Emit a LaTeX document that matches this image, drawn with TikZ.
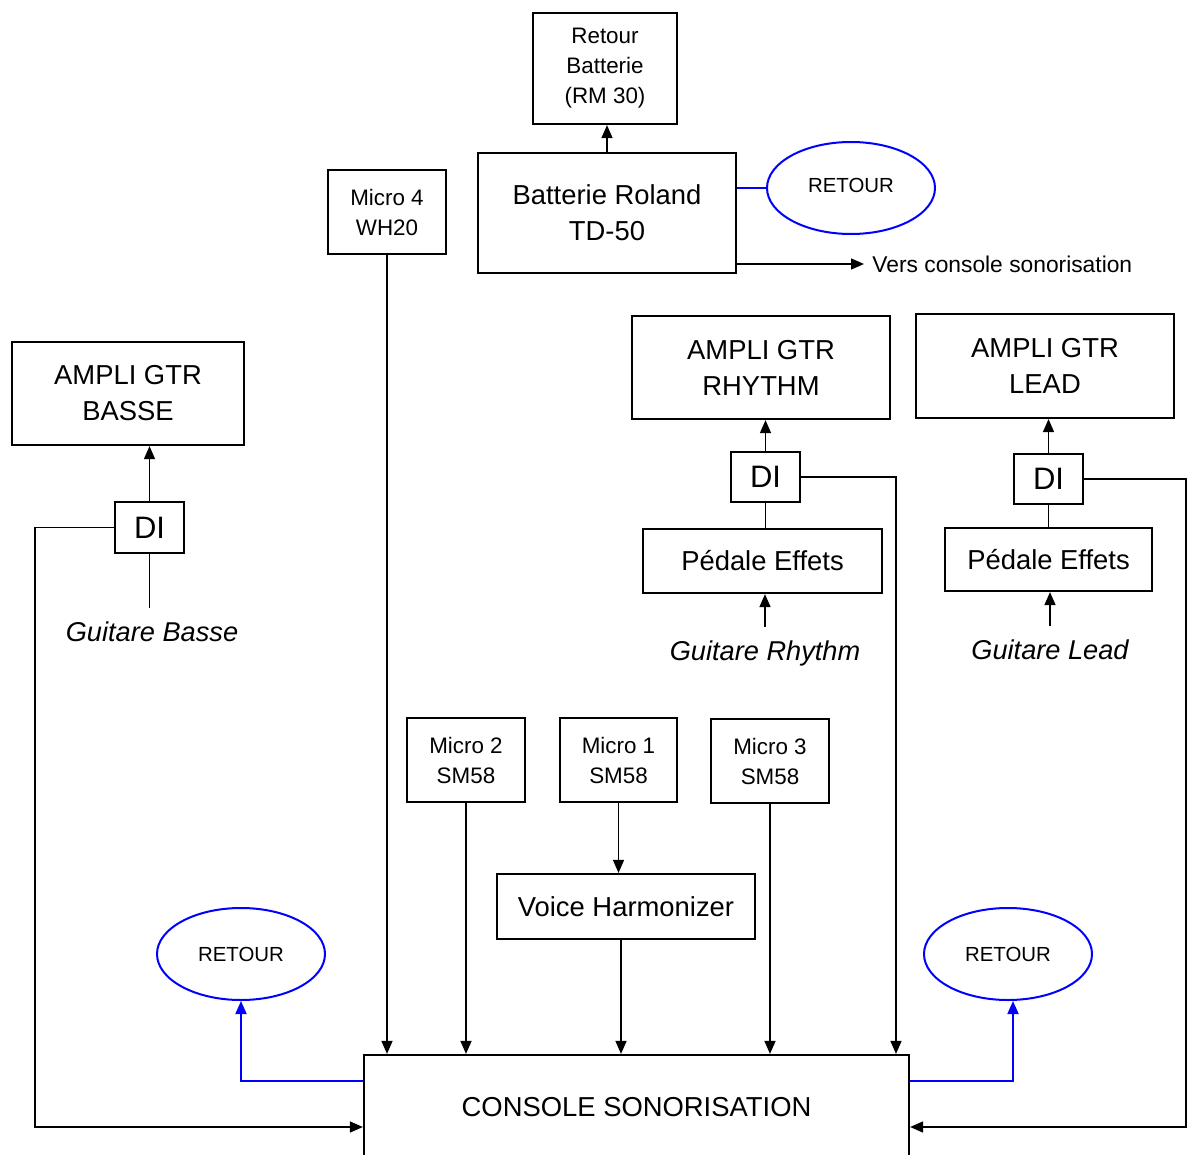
\documentclass[tikz,border=0pt]{standalone}
\usepackage{fontspec}
\setmainfont{Liberation Sans}
\usetikzlibrary{arrows.meta,shapes.geometric}
\begin{document}
\begin{tikzpicture}[x=0.5pt,y=-0.5pt,
  box/.style={draw,line width=1.1pt,inner sep=0pt,align=center,anchor=center},
  big/.style={font=\fontsize{13.7}{18}\selectfont},
  small/.style={font=\fontsize{11.2}{15}\selectfont},
  ditext/.style={font=\fontsize{15.5}{18}\selectfont},
  retour/.style={draw=blue,line width=1pt,ellipse,inner sep=0pt,minimum width=84pt,minimum height=46pt,font=\fontsize{10.2}{12}\selectfont},
  glabel/.style={font=\itshape\fontsize{13.6}{16}\selectfont,inner xsep=0pt,inner ysep=7pt,text height=9.6pt,text depth=0pt},
  conn/.style={line width=0.7pt},
  arr/.style={line width=0.7pt,-{Triangle[length=6.5pt,width=5.5pt]}},
  barr/.style={draw=blue,line width=0.9pt,-{Triangle[length=6.5pt,width=5.5pt]}},
]
\useasboundingbox (0,0) rectangle (1188,1155);
\clip (0,0) rectangle (1188,1155);

% top
\node[box,small,minimum width=72pt,minimum height=55.5pt] (rb) at (605,68.5) {Retour\\Batterie\\(RM 30)};
\node[box,big,minimum width=129pt,minimum height=60pt] (br) at (607,213) {Batterie Roland\\TD-50};
\node[retour] (ret1) at (851,188) {\raisebox{2.5pt}{RETOUR}};
\node[anchor=west,inner sep=4pt,font=\fontsize{11.4}{14}\selectfont] (vcs) at (864,264) {Vers console sonorisation};
\node[box,small,minimum width=59pt,minimum height=42pt] (m4) at (387,212) {Micro 4\\WH20};

% basse
\node[box,big,minimum width=116pt,minimum height=51.5pt] (ab) at (128,393.5) {AMPLI GTR\\BASSE};
\node[box,ditext,minimum width=34.5pt,minimum height=25.5pt] (di1) at (149.5,527.5) {DI};
\node[glabel] (gb) at (152,632) {Guitare Basse};

% rhythm
\node[box,big,minimum width=129pt,minimum height=51.5pt] (ar) at (761,367.5) {AMPLI GTR\\RHYTHM};
\node[box,ditext,minimum width=34.5pt,minimum height=25pt] (di2) at (765.5,477) {DI};
\node[box,big,minimum width=119.5pt,minimum height=32pt] (pe2) at (762.5,561) {Pédale Effets};
\node[glabel] (gr) at (765,651) {Guitare Rhythm};

% lead
\node[box,big,minimum width=129pt,minimum height=52pt] (al) at (1045,366) {AMPLI GTR\\LEAD};
\node[box,ditext,minimum width=34.5pt,minimum height=25pt] (di3) at (1048.5,479) {DI};
\node[box,big,minimum width=103.5pt,minimum height=31.5pt] (pe3) at (1048.5,559.5) {Pédale Effets};
\node[glabel] (gl) at (1050,650) {Guitare Lead};

% micros
\node[box,small,minimum width=59pt,minimum height=42pt] (m2) at (466,760) {Micro 2\\SM58};
\node[box,small,minimum width=58.5pt,minimum height=42pt] (m1) at (618.5,760) {Micro 1\\SM58};
\node[box,small,minimum width=59pt,minimum height=42pt] (m3) at (770,761) {Micro 3\\SM58};
\node[box,big,minimum width=129pt,minimum height=32.5pt] (vh) at (626,906.5) {Voice Harmonizer};

% console
\node[box,big,minimum width=272.5pt,minimum height=52pt] (cs) at (636.5,1107) {CONSOLE SONORISATION};
\node[retour] (ret2) at (241,954) {RETOUR};
\node[retour] (ret3) at (1008,954) {RETOUR};

% connectors top
\draw[arr] (br.north) -- (br.north |- rb.south);
\draw[draw=blue,line width=0.9pt] (ret1.west -| br.east) -- (ret1.west);
\draw[arr] (vcs.west -| br.east) -- (vcs.west);
\draw[arr] (m4.south) -- (m4.south |- cs.north);

% basse
\draw[arr] (di1.north) -- (di1.north |- ab.south);
\draw[conn] (di1.south) -- (di1.south |- gb.north);
\coordinate (lb) at (35,1127);
\draw[arr] (di1.west) -| (lb) -- (lb -| cs.west);

% rhythm
\draw[arr] (di2.north) -- (di2.north |- ar.south);
\draw[conn] (di2.south) -- (di2.south |- pe2.north);
\draw[arr] (gr.north) -- (gr.north |- pe2.south);
\coordinate (rx) at (896,477);
\draw[arr] (di2.east) -- (rx) -- (rx |- cs.north);

% lead
\draw[arr] (di3.north) -- (di3.north |- al.south);
\draw[conn] (di3.south) -- (di3.south |- pe3.north);
\draw[arr] (gl.north) -- (gl.north |- pe3.south);
\coordinate (rb2) at (1186,1127);
\draw[arr] (di3.east) -| (rb2) -- (rb2 -| cs.east);

% micros
\draw[arr] (m2.south) -- (m2.south |- cs.north);
\draw[arr] (m1.south) -- (m1.south |- vh.north);
\coordinate (vx) at (621,0);
\draw[arr] (vx |- vh.south) -- (vx |- cs.north);
\draw[arr] (m3.south) -- (m3.south |- cs.north);

% retours
\coordinate (bl) at (241,1081);
\draw[barr] (bl -| cs.west) -- (bl) -- (ret2.south);
\coordinate (br2) at (1013,1081);
\draw[barr] (br2 -| cs.east) -- (br2) -- (br2 |- ret3.south);
\end{tikzpicture}
\end{document}
